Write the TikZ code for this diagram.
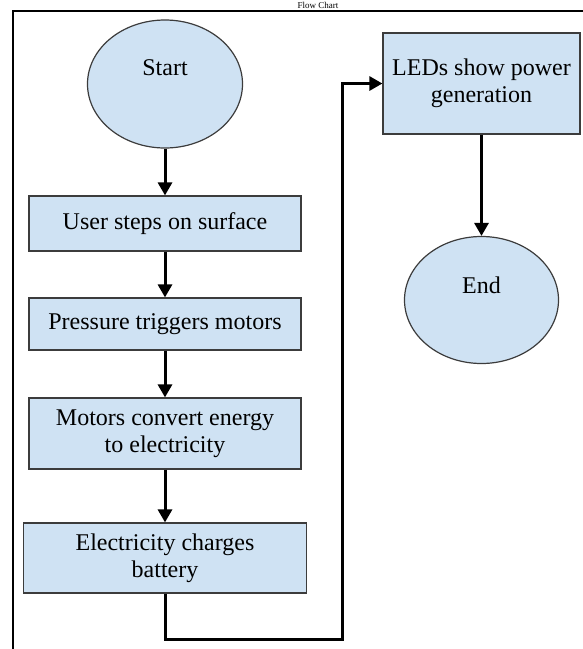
\documentclass[tikz,border=0pt]{standalone}
\usepackage{fontspec}
\setmainfont{Liberation Serif}
\usetikzlibrary{arrows.meta,positioning,shapes.geometric,calc}
\definecolor{boxfill}{RGB}{207,226,243}
\definecolor{boxline}{RGB}{60,60,60}
\begin{document}
\begin{tikzpicture}[x=1pt,y=-1pt,
  every node/.style={font=\fontsize{24}{27}\selectfont, inner sep=0pt},
  procbox/.style={draw=boxline, line width=1.2pt, fill=boxfill, rectangle, align=center},
  termshape/.style={draw=boxline, line width=1.2pt, fill=boxfill, ellipse, minimum width=155pt, minimum height=128pt},
  flowline/.style={line width=3pt, -{Triangle[length=13pt,width=14pt]}},
  frameline/.style={line width=2pt, black}
]
\useasboundingbox (0,0) rectangle (582,649);
% outer frame (partially visible)
\draw[frameline] (12.5,660) -- (12.5,10.5) -- (600,10.5);
% title above the frame
\node[anchor=base, font=\fontsize{9}{10}\selectfont] (title) at (318,8) {Flow Chart};

\node[termshape] (start) at (165,84) {};
\node (starttext) at (165,68) {Start};

\node[procbox, minimum width=272pt, minimum height=55pt] (b1) at (165,223.5) {User steps on surface};
\node[procbox, minimum width=272pt, minimum height=52pt] (b2) at (165,324) {Pressure triggers motors};
\node[procbox, minimum width=272pt, minimum height=71pt] (b3) at (165,433.5) {Motors convert energy\\to electricity};
\node[procbox, minimum width=283pt, minimum height=70pt] (b4) at (165,558) {Electricity charges\\battery};

\node[procbox, minimum width=197pt, minimum height=101pt] (led) at (481.5,83.5) {LEDs show power\\generation};
\node[termshape, minimum width=154pt, minimum height=127pt] (end) at (481.5,300) {};
\node (endtext) at (481.5,285) {End};

\coordinate (c1) at (342,639);

\draw[flowline] (start.south) -- (b1.north);
\draw[flowline] (b1.south) -- (b2.north);
\draw[flowline] (b2.south) -- (b3.north);
\draw[flowline] (b3.south) -- (b4.north);
\draw[flowline] (b4.south) |- (c1) |- (led.west);
\draw[flowline] (led.south) -- (end.north);
\end{tikzpicture}
\end{document}
